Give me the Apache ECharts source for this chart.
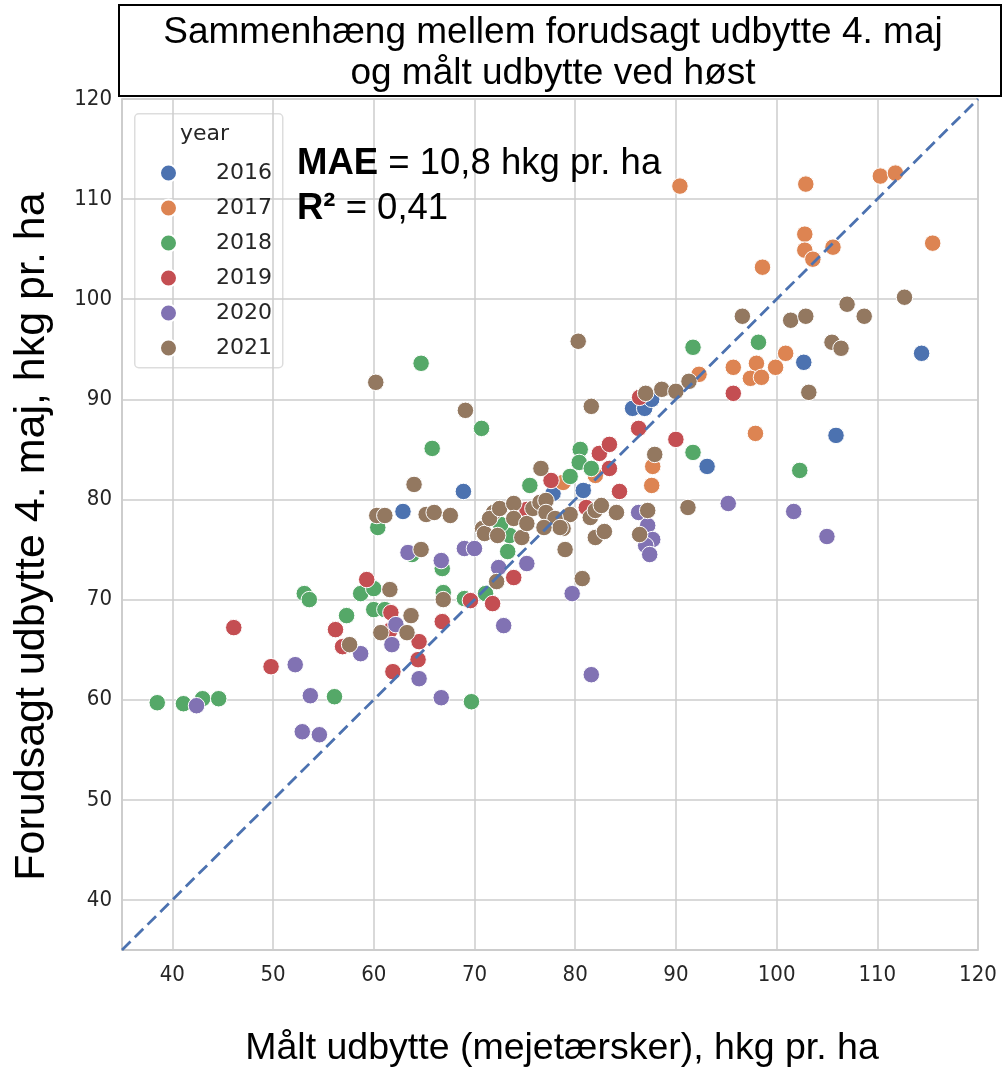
<!DOCTYPE html>
<html><head><meta charset="utf-8">
<script src="https://cdn.jsdelivr.net/npm/echarts@6/dist/echarts.min.js"></script>
<style>html,body{margin:0;padding:0;background:#fff}#c{width:1004px;height:1067px}</style>
</head><body><div id="c"></div>
<script>
const years = ['2016','2017','2018','2019','2020','2021'];
const colors = ['#4c72b0','#dd8452','#55a868','#c44e52','#8172b3','#937860'];

const pts2016 = [[62.9,78.8],[68.9,80.8],[77.8,80.6],[80.8,80.9],[85.7,89.1],[86.9,89.1],[87.6,90.0],[93.1,83.3],[102.7,93.7],[114.4,94.6],[105.9,86.4]];
const pts2017 = [[90.4,111.3],[102.9,111.5],[110.3,112.3],[111.8,112.6],[115.5,105.6],[102.8,106.5],[102.8,104.9],[103.6,104.0],[105.6,105.2],[98.6,103.2],[92.3,92.5],[95.7,93.2],[98.0,93.6],[100.9,94.6],[99.9,93.2],[97.4,92.1],[98.5,92.2],[97.9,86.6],[87.7,83.3],[87.6,81.4],[78.8,81.7],[82.0,82.4]];
const pts2018 = [[38.5,59.7],[41.1,59.6],[43.0,60.1],[44.6,60.1],[56.1,60.3],[53.1,70.6],[53.6,70.0],[57.3,68.4],[58.7,70.6],[60.0,71.1],[60.0,69.0],[61.1,69.0],[60.4,77.2],[66.8,73.1],[66.9,70.7],[70.7,87.1],[65.8,85.1],[75.5,81.4],[80.5,85.0],[80.4,83.7],[81.6,83.1],[79.5,82.3],[91.7,84.7],[69.7,59.8],[73.3,74.8],[73.5,76.4],[72.6,77.5],[69.0,70.1],[71.1,70.6],[63.8,74.5],[64.7,93.6],[91.7,95.2],[98.2,95.7],[102.3,82.9]];
const pts2019 = [[46.1,67.2],[49.8,63.3],[59.3,72.0],[56.2,67.0],[56.9,65.3],[61.9,62.8],[61.7,68.7],[61.6,66.9],[64.5,65.8],[64.4,64.0],[66.8,67.8],[77.6,81.9],[82.4,84.6],[83.4,85.5],[83.4,83.1],[84.4,80.8],[86.3,87.1],[86.4,90.2],[90.0,86.0],[81.1,79.2],[73.9,72.2],[69.6,69.9],[71.8,69.6],[95.7,90.6],[75.2,79.0]];
const pts2020 = [[42.4,59.4],[52.2,63.5],[53.7,60.4],[52.9,56.8],[54.6,56.5],[58.7,64.6],[62.2,67.5],[61.8,65.5],[63.4,74.7],[64.5,62.1],[66.7,73.9],[69.0,75.1],[70.0,75.1],[72.4,73.2],[75.2,73.6],[72.9,67.4],[66.7,60.2],[79.7,70.6],[81.6,62.5],[86.3,78.7],[87.2,77.4],[87.7,76.0],[87.0,75.4],[87.4,74.5],[95.2,79.6],[101.7,78.8],[105.0,76.3]];
const pts2021 = [[60.2,91.7],[80.3,95.8],[64.0,81.5],[60.3,78.4],[61.1,78.4],[61.6,71.0],[63.7,68.4],[60.7,66.7],[63.3,66.7],[57.6,65.5],[64.7,75.0],[69.1,88.9],[65.2,78.5],[66.0,78.7],[67.6,78.4],[81.6,89.3],[87.0,90.6],[88.6,91.0],[90.0,90.8],[91.3,91.8],[87.9,84.5],[76.6,83.1],[91.2,79.2],[66.9,70.0],[72.2,71.8],[80.7,72.1],[79.0,75.0],[82.0,76.2],[82.9,76.8],[86.4,76.5],[87.2,78.9],[84.1,78.7],[81.5,78.2],[82.0,78.9],[82.6,79.4],[79.5,78.5],[78.8,77.1],[70.8,77.1],[71.0,76.6],[71.9,78.7],[71.5,78.1],[72.3,76.4],[72.5,79.1],[73.9,79.6],[73.9,78.1],[74.7,76.2],[75.2,77.6],[75.8,79.1],[76.5,79.7],[77.1,79.9],[77.1,78.7],[78.0,78.1],[78.5,77.2],[76.9,77.2],[96.6,98.3],[101.4,97.9],[102.9,98.3],[107.0,99.5],[108.7,98.3],[112.7,100.2],[105.5,95.7],[106.4,95.1],[103.2,90.7]];
const allPts = [pts2016, pts2017, pts2018, pts2019, pts2020, pts2021];

const refLine = [[35,35],[120,120]];
const axisMin = 35, axisMax = 120;
const titleLines = ['Sammenhæng mellem forudsagt udbytte 4. maj', 'og målt udbytte ved høst'];
const xName = 'Målt udbytte (mejetærsker), hkg pr. ha';
const yName = 'Forudsagt udbytte 4. maj, hkg pr. ha';
const maeLabel = 'MAE', maeValue = ' = 10,8 hkg pr. ha';
const r2Label = 'R²', r2Value = ' = 0,41';
const legendTitle = 'year';

const chart = echarts.init(document.getElementById('c'), null, {renderer: 'canvas'});
const tickFont = {fontFamily: 'DejaVu Sans Condensed, DejaVu Sans', fontSize: 22, color: '#262626'};
const axisCommon = {
  type: 'value', min: axisMin, max: axisMax, splitNumber: 8, minInterval: 10, maxInterval: 10,
  axisLine: {show: true, lineStyle: {color: '#cccccc', width: 1.5}},
  axisTick: {show: false},
  splitLine: {show: true, lineStyle: {color: '#cccccc', width: 1.5}},
  nameLocation: 'middle'
};
const series = years.map((y, i) => ({
  name: y, type: 'scatter', data: allPts[i], symbol: 'circle', symbolSize: 16.5,
  itemStyle: {color: colors[i], borderColor: '#fff', borderWidth: 1, opacity: 1},
  z: 2
}));
series.push({
  type: 'line', data: refLine, symbol: 'none', silent: true, z: 5,
  lineStyle: {color: '#4c72b0', width: 2.8, type: [12, 6]}
});
chart.setOption({
  animation: false,
  backgroundColor: '#fff',
  grid: {left: 122, top: 99, right: 26, bottom: 117, outerBoundsMode: 'none', containLabel: false,
         show: true, borderColor: '#cccccc', borderWidth: 1.5},
  xAxis: Object.assign({}, axisCommon, {
    name: xName, nameGap: 80,
    nameTextStyle: {fontFamily: 'Liberation Sans, Arial', fontSize: 37.5, color: '#000', padding: [0, 0, 0, 24]},
    axisLabel: Object.assign({showMinLabel: false, margin: 14}, tickFont)
  }),
  yAxis: Object.assign({}, axisCommon, {
    name: yName, nameGap: 68, nameRotate: 90,
    nameTextStyle: {fontFamily: 'Liberation Sans, Arial', fontSize: 43, color: '#000', padding: [0, 24, 0, 0]},
    axisLabel: Object.assign({showMinLabel: false, margin: 10}, tickFont)
  }),
  legend: {
    data: years, orient: 'vertical', left: 159, top: 162, itemGap: 13,
    itemWidth: 17, itemHeight: 17, icon: 'circle', padding: 0,
    formatter: '{n|{name}}',
    textStyle: {rich: {n: {fontFamily: 'DejaVu Sans', fontSize: 22, color: '#262626', lineHeight: 20, padding: [0, 0, 0, 34]}}}
  },
  graphic: [
    {type: 'rect', left: 118, top: 4, z: 10, shape: {width: 882, height: 91}, style: {fill: '#fff', stroke: '#000', lineWidth: 2}},
    {type: 'text', x: 553, y: 33, z: 11, style: {text: titleLines[0], fontFamily: 'Liberation Sans, Arial', fontSize: 37, fill: '#000', align: 'center', verticalAlign: 'middle'}},
    {type: 'text', x: 553, y: 74, z: 11, style: {text: titleLines[1], fontFamily: 'Liberation Sans, Arial', fontSize: 37, fill: '#000', align: 'center', verticalAlign: 'middle'}},
    {type: 'rect', left: 134, top: 113, z: 0, shape: {width: 148, height: 254, r: 4}, style: {fill: 'rgba(255,255,255,0.8)', stroke: '#dddddd', lineWidth: 1.5}},
    {type: 'text', x: 180, y: 134, z: 11, style: {text: legendTitle, fontFamily: 'DejaVu Sans', fontSize: 22, fill: '#262626', align: 'left', verticalAlign: 'middle'}},
    {type: 'text', x: 297, y: 164, z: 11, style: {
      text: '{b|' + maeLabel + '}{r|' + maeValue + '}',
      verticalAlign: 'middle',
      rich: {b: {fontFamily: 'Liberation Sans, Arial', fontSize: 36.5, fontWeight: 'bold', fill: '#000'},
             r: {fontFamily: 'Liberation Sans, Arial', fontSize: 36.5, fill: '#000'}}}},
    {type: 'text', x: 297, y: 209, z: 11, style: {
      text: '{b|' + r2Label + '}{r|' + r2Value + '}',
      verticalAlign: 'middle',
      rich: {b: {fontFamily: 'Liberation Sans, Arial', fontSize: 36.5, fontWeight: 'bold', fill: '#000'},
             r: {fontFamily: 'Liberation Sans, Arial', fontSize: 36.5, fill: '#000'}}}}
  ],
  series: series
});
</script></body></html>
